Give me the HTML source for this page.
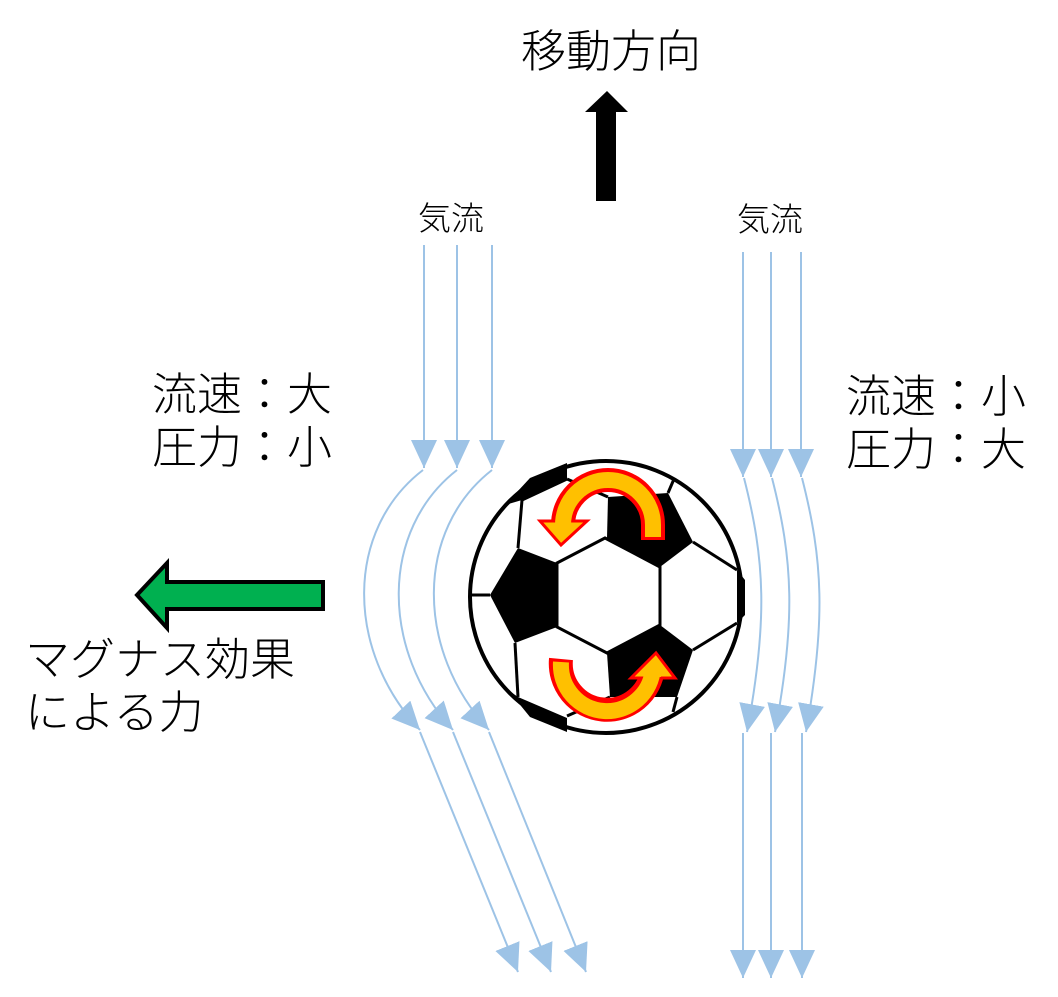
<!DOCTYPE html>
<html><head><meta charset="utf-8"><style>
html,body{margin:0;padding:0;background:#fff;}
svg{display:block;}
text{font-family:"Liberation Sans","Noto Sans CJK JP",sans-serif;fill:#000;font-weight:300;}
</style></head><body>
<svg width="1058" height="997" viewBox="0 0 1058 997" xmlns="http://www.w3.org/2000/svg">
<defs>
<marker id="ah" markerUnits="userSpaceOnUse" markerWidth="30" markerHeight="28" refX="28" refY="13" orient="auto">
<path d="M0,0 L28,13 L0,26 z" fill="#9dc3e6"/>
</marker>
</defs>

<text x="521" y="67" font-size="45">移動方向</text>
<polygon points="607,91 628,112 616,112 616,201 596,201 596,112 585,112" fill="#000"/>

<text x="418" y="230" font-size="33">気流</text>
<text x="737" y="231" font-size="33">気流</text>

<text x="152" y="410" font-size="45">流速：大</text>
<text x="152" y="463" font-size="45">圧力：小</text>
<text x="846" y="412" font-size="45">流速：小</text>
<text x="846" y="465" font-size="45">圧力：大</text>

<text x="25" y="675" font-size="45">マグナス効果</text>
<text x="25" y="728" font-size="45">による力</text>

<polygon points="137,595 167,563 167,582 323,582 323,609 167,609 167,628" fill="#00b050" stroke="#000" stroke-width="4" stroke-linejoin="miter"/>

<g stroke="#9dc3e6" stroke-width="2" fill="none" marker-end="url(#ah)">
<line x1="424" y1="245" x2="424" y2="468"/>
<line x1="457" y1="245" x2="457" y2="468"/>
<line x1="492" y1="245" x2="492" y2="468"/>
<line x1="743" y1="252" x2="743" y2="477"/>
<line x1="771" y1="252" x2="771" y2="477"/>
<line x1="801" y1="252" x2="801" y2="477"/>
<path d="M423,470 C345,530 345,650 420,730"/>
<path d="M457,470 C380,530 380,650 453,730"/>
<path d="M492,470 C415,530 415,650 489,730"/>
<path d="M744,478 C765,560 768,620 747,732"/>
<path d="M772,478 C793,560 796,620 775,732"/>
<path d="M802,478 C823,560 826,620 806,732"/>
<line x1="420" y1="732" x2="518" y2="972"/>
<line x1="453" y1="732" x2="551" y2="972"/>
<line x1="489" y1="732" x2="586" y2="972"/>
<line x1="743" y1="733" x2="743" y2="978"/>
<line x1="771" y1="733" x2="771" y2="978"/>
<line x1="802" y1="733" x2="802" y2="978"/>
</g>

<!-- ball -->
<circle cx="606" cy="597" r="136" fill="#fff"/>
<g fill="#000">
<polygon points="557,563 518,548 490,595 515,643 557,627"/>
<polygon points="607,538 608,497 668,493 693,542 660,567"/>
<polygon points="660,625 693,650 677,697 610,697 607,653"/>
<polygon points="737,570 745,580 745,615 737,623"/>
<polygon points="505,505 522,500 567,479 567,463 530,478"/>
<polygon points="508,690 518,697 567,718 567,732 530,717"/>
</g>
<g stroke="#000" stroke-width="3" fill="none">
<polygon points="557,563 605,538 660,567 660,625 607,653 557,627"/>
<line x1="490" y1="595" x2="470" y2="595"/>
<line x1="518" y1="548" x2="522" y2="500"/>
<line x1="522" y1="500" x2="567" y2="479"/>
<line x1="567" y1="479" x2="608" y2="497"/>
<line x1="668" y1="493" x2="674" y2="479"/>
<line x1="693" y1="542" x2="737" y2="570"/>
<line x1="693" y1="650" x2="737" y2="623"/>
<line x1="677" y1="697" x2="673" y2="712"/>
<line x1="515" y1="643" x2="518" y2="697"/>
<line x1="567" y1="716" x2="610" y2="697"/>
</g>
<circle cx="606" cy="597" r="136" fill="none" stroke="#000" stroke-width="4"/>

<!-- rotation arrows -->
<g fill="none" stroke-linecap="butt">
<path d="M653,540 L653,525 A45,45 0 0 0 563,525" stroke="#ff0000" stroke-width="24"/>
<path d="M561,659 A46,46 0 0 0 653,668 L653,675" stroke="#ff0000" stroke-width="24"/>
</g>
<polygon points="540,521 587,521 561,545" fill="#ffc000" stroke="#ff0000" stroke-width="3"/>
<polygon points="631,678 675,678 656,653" fill="#ffc000" stroke="#ff0000" stroke-width="3"/>
<g fill="none">
<path d="M653,537 L653,525 A45,45 0 0 0 563,525 L563,524" stroke="#ffc000" stroke-width="16"/>
<path d="M561,662 A46,46 0 0 0 653,668 L653,677" stroke="#ffc000" stroke-width="16"/>
</g>
</svg>
</body></html>
